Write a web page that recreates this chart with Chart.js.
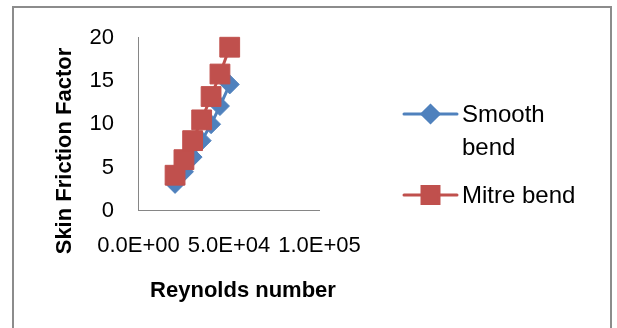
<!DOCTYPE html>
<html>
<head>
<meta charset="utf-8">
<script src="https://cdn.jsdelivr.net/npm/chart.js@4.4.1/dist/chart.umd.min.js"></script>
<style>
  html, body { margin: 0; padding: 0; background: #fff; }
  #wrap { position: relative; width: 617px; height: 328px; overflow: hidden; }
  #frame { position: absolute; left: 12px; top: 6px; width: 600px; height: 340px;
           box-sizing: border-box; border: 2px solid #8c8c8c; }
  #chart { position: absolute; left: 0; top: 0; }
</style>
</head>
<body>
<div id="wrap">
  <div id="frame"></div>
  <canvas id="chart" width="617" height="328"></canvas>
</div>
<script>
// Skin friction factor vs Reynolds number, smooth and mitre bends

const reynolds = [20200, 25100, 29900, 34900, 40100, 45000, 50400];
const smoothBend = [3.1, 4.5, 6.2, 8.1, 10.0, 12.1, 14.6];
const mitreBend = [4.1, 5.9, 8.1, 10.5, 13.2, 15.8, 18.9];
const seriesNames = ['Smooth bend', 'Mitre bend'];
const seriesColors = ['#4F81BD', '#C0504D'];
const xTicks = [0, 50000, 100000];
const yTicks = [0, 5, 10, 15, 20];
const xTitle = 'Reynolds number';
const yTitle = 'Skin Friction Factor';

const FONT = '"Liberation Sans", Arial, sans-serif';

// 0 -> 0.0E+00, 50000 -> 5.0E+04
function sci(v) {
    const parts = v.toExponential(1).split('e');
    const e = parseInt(parts[1], 10);
    const n = Math.abs(e);
    return parts[0] + 'E' + (e < 0 ? '-' : '+') + (n < 10 ? '0' : '') + n;
}

function toPoints(ys) {
    return reynolds.map(function(x, i) { return { x: x, y: ys[i] }; });
}

function wrapWords(ctx, text, maxW) {
    const words = text.split(' ');
    const lines = [];
    let cur = '';
    words.forEach(function(w) {
        const test = cur ? cur + ' ' + w : w;
        if (cur && ctx.measureText(test).width > maxW) {
            lines.push(cur);
            cur = w;
        } else {
            cur = test;
        }
    });
    if (cur) lines.push(cur);
    return lines;
}

// axis titles and the side legend, placed the way Excel put them
const excelDecor = {
    id: 'excelDecor',
    afterDraw(chart) {
        const ctx = chart.ctx;
        ctx.save();
        ctx.fillStyle = '#000';
        ctx.font = 'bold 22px ' + FONT;
        ctx.textAlign = 'center';
        ctx.textBaseline = 'alphabetic';
        ctx.fillText(xTitle, 243, 297);
        ctx.save();
        ctx.translate(71, 151);
        ctx.rotate(-Math.PI / 2);
        ctx.fillText(yTitle, 0, 0);
        ctx.restore();

        // legend
        const rows = [114, 195];
        ctx.font = '24px ' + FONT;
        ctx.textAlign = 'left';
        chart.data.datasets.forEach(function(ds, i) {
            const y = rows[i];
            ctx.strokeStyle = ds.borderColor;
            ctx.lineWidth = 3;
            ctx.lineCap = 'round';
            ctx.beginPath();
            ctx.moveTo(404, y);
            ctx.lineTo(457, y);
            ctx.stroke();
            ctx.fillStyle = ds.borderColor;
            Chart.helpers.drawPoint(ctx, {
                pointStyle: ds.pointStyle,
                radius: ds.pointStyle === 'rect' ? 12 : 8.5,
                rotation: 0,
                borderWidth: 1
            }, 430.5, y);
            ctx.fillStyle = '#000';
            wrapWords(ctx, ds.label, 125).forEach(function(line, k) {
                ctx.fillText(line, 462, y + 8 + k * 33);
            });
        });
        ctx.restore();
    }
};

new Chart(document.getElementById('chart'), {
    type: 'scatter',
    data: {
        datasets: [{
            label: seriesNames[0],
            data: toPoints(smoothBend),
            showLine: true,
            borderColor: seriesColors[0],
            backgroundColor: seriesColors[0],
            borderWidth: 3,
            pointStyle: 'rectRot',
            pointRadius: 9.5,
            pointBorderWidth: 1,
            order: 1,
            clip: false
        }, {
            label: seriesNames[1],
            data: toPoints(mitreBend),
            showLine: true,
            borderColor: seriesColors[1],
            backgroundColor: seriesColors[1],
            borderWidth: 3,
            pointStyle: 'rect',
            pointRadius: 14,
            pointBorderWidth: 1,
            order: 0,
            clip: false
        }]
    },
    options: {
        responsive: false,
        animation: false,
        layout: {
            padding: { left: 0, top: 36.7, right: 297.5, bottom: 0 }
        },
        plugins: {
            legend: { display: false },
            tooltip: { enabled: false }
        },
        scales: {
            x: {
                type: 'linear',
                min: 0,
                max: 100000,
                afterBuildTicks: function(scale) {
                    scale.ticks = xTicks.map(function(v) { return { value: v }; });
                },
                afterFit: function(scale) { scale.height = 117.3; },
                grid: { display: true, drawOnChartArea: false, drawTicks: false },
                border: { display: true, color: '#868686', width: 1 },
                ticks: {
                    padding: 22,
                    color: '#000',
                    maxRotation: 0,
                    autoSkip: false,
                    font: { family: FONT, size: 22 },
                    callback: function(value) { return sci(value); }
                }
            },
            y: {
                type: 'linear',
                min: 0,
                max: 20,
                afterBuildTicks: function(scale) {
                    scale.ticks = yTicks.map(function(v) { return { value: v }; });
                },
                afterFit: function(scale) { scale.width = 138.5; },
                grid: { display: true, drawOnChartArea: false, drawTicks: false },
                border: { display: true, color: '#868686', width: 1 },
                ticks: {
                    padding: 24.5,
                    color: '#000',
                    font: { family: FONT, size: 22 }
                }
            }
        }
    },
    plugins: [excelDecor]
});
</script>
</body>
</html>
